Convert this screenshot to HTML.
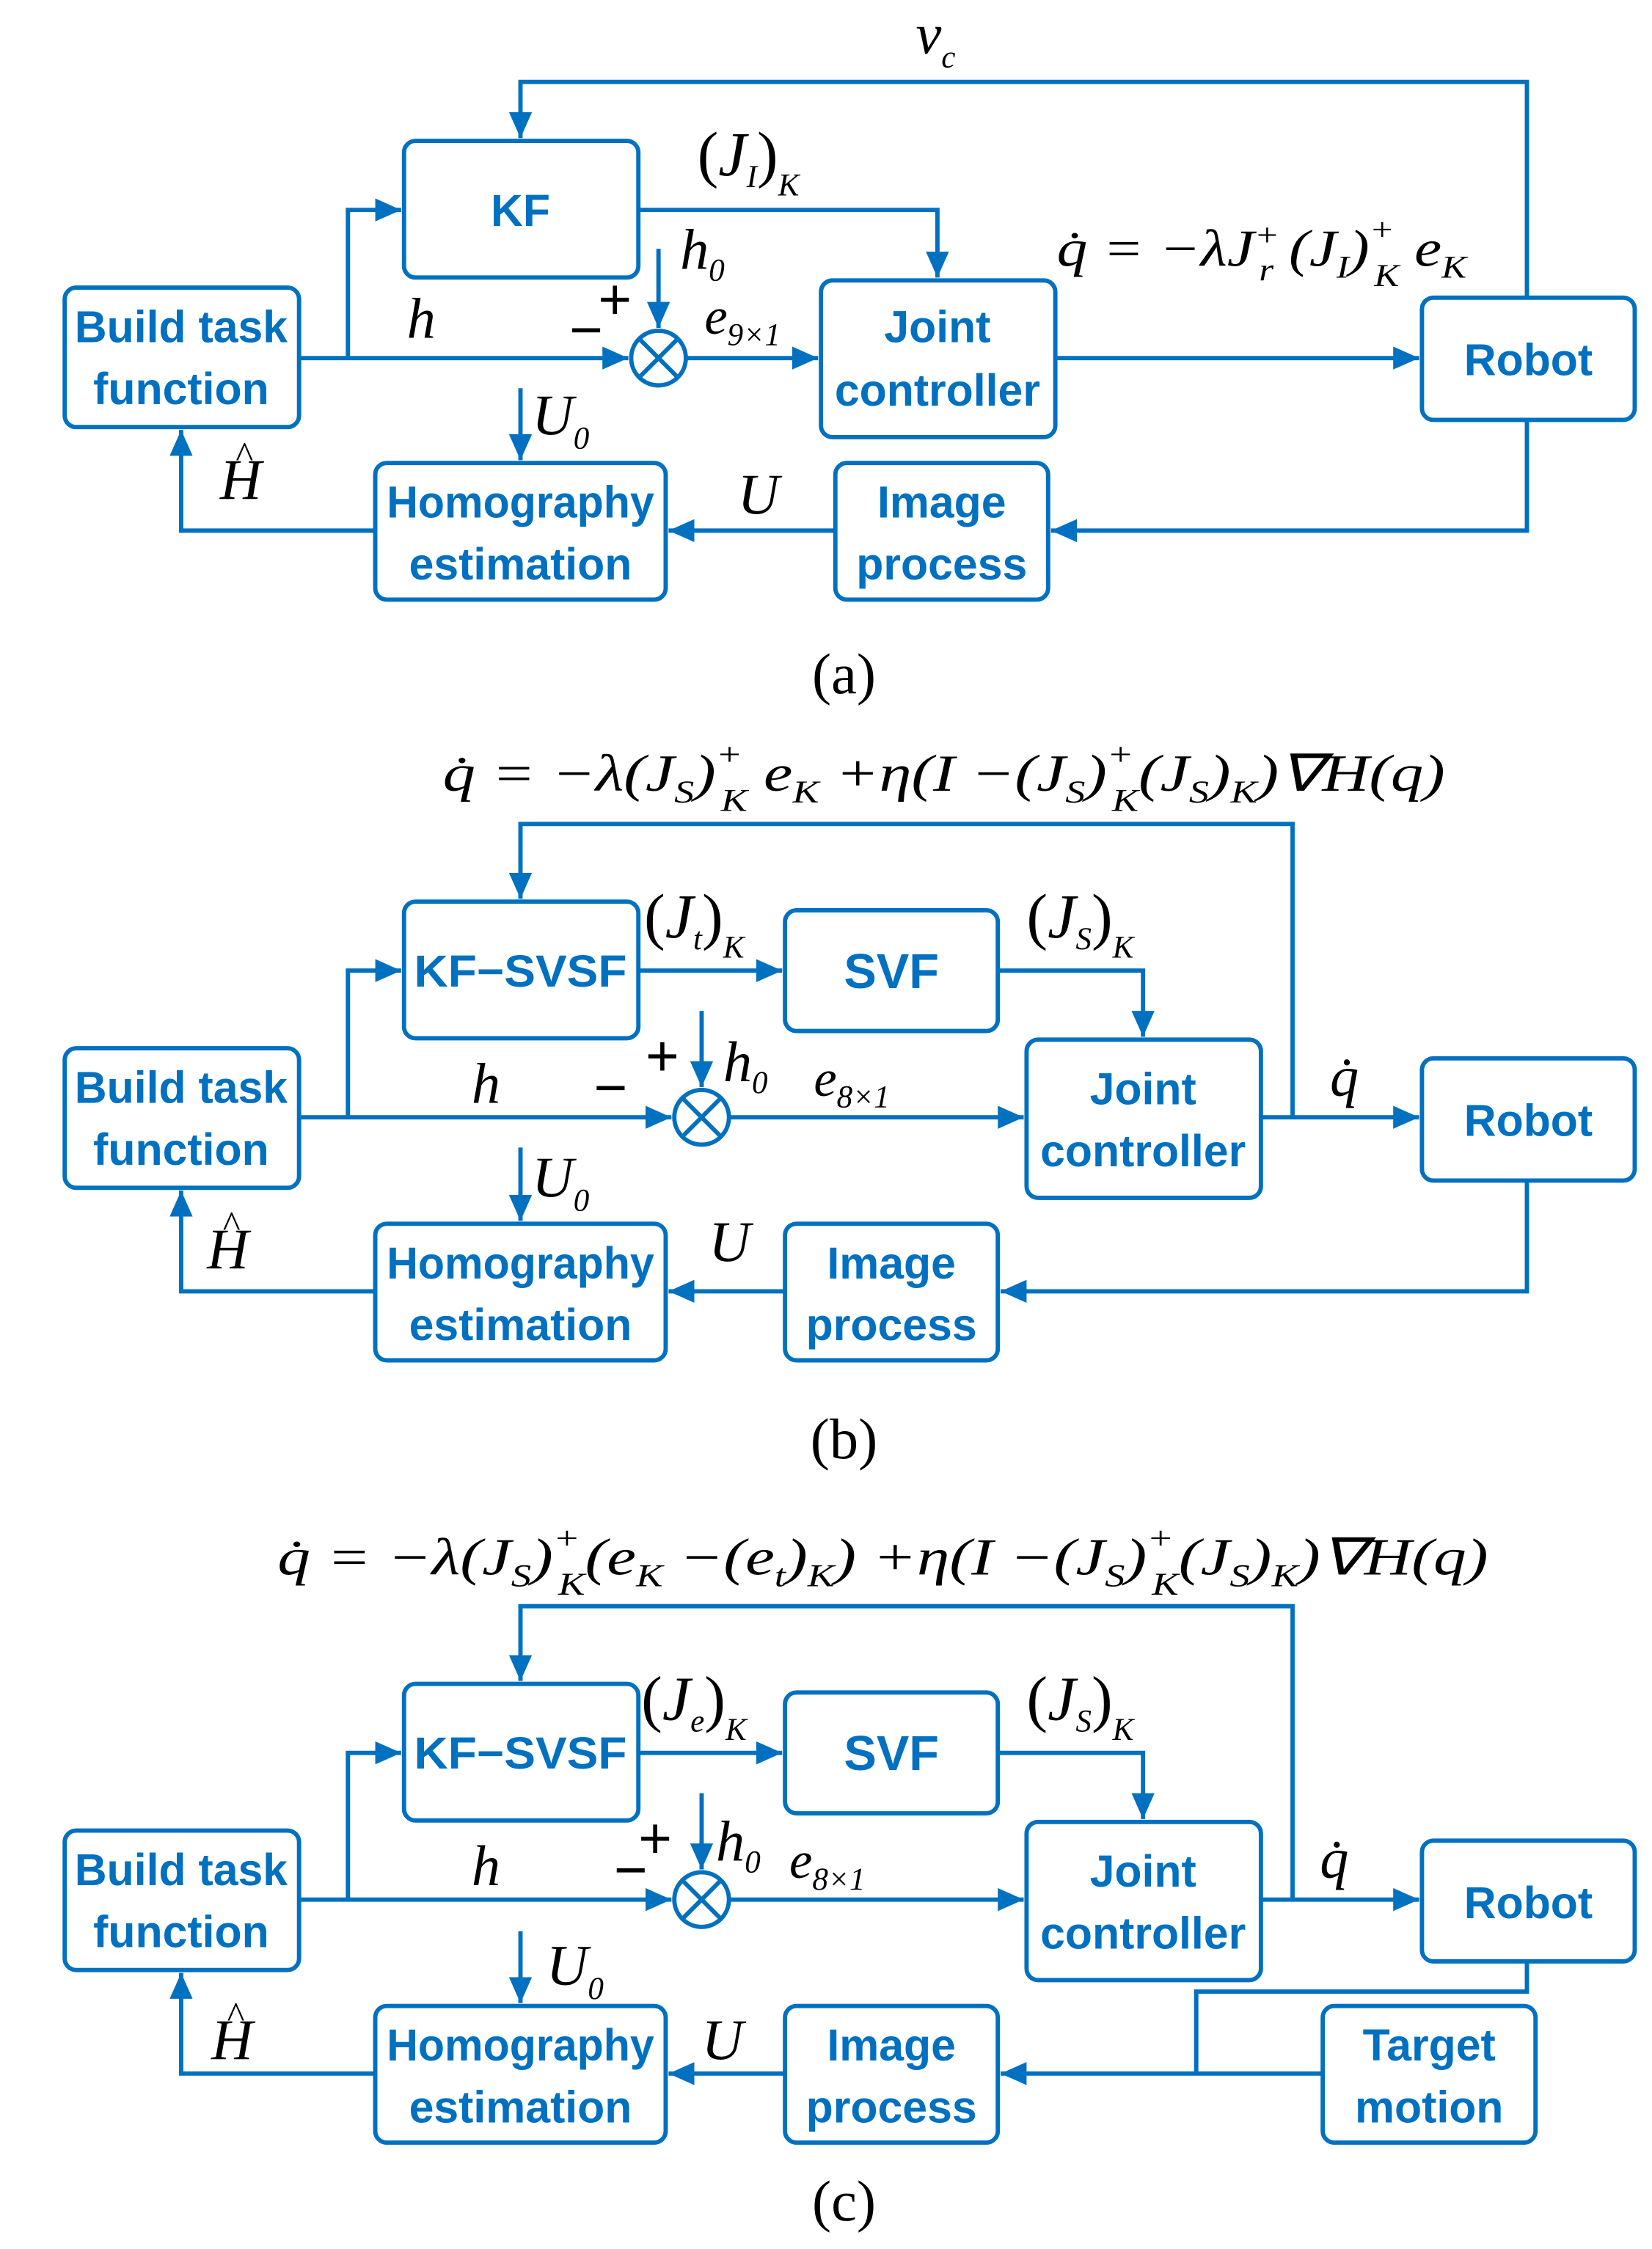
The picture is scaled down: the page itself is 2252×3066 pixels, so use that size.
<!DOCTYPE html>
<html><head><meta charset="utf-8"><style>
html,body{margin:0;padding:0;background:#fff}
svg{display:block}
.bx{fill:#fff;stroke:#0070C0;stroke-width:3}
.ln{fill:none;stroke:#0070C0;stroke-width:3}
.bt{font-family:"Liberation Sans",sans-serif;font-weight:bold;font-size:31px;fill:#0070C0;text-anchor:middle}
.m{font-family:"Liberation Serif",serif;font-style:italic;font-size:36px;fill:#000}
.r{font-family:"Liberation Serif",serif;font-size:36px;fill:#000}
.s{font-size:22px}
.pm{font-family:"Liberation Sans",sans-serif;font-size:40px;fill:#000}
.jl{font-size:44px}
</style></head><body>
<svg width="2252" height="3066" viewBox="0 0 1149 1564" preserveAspectRatio="none" xmlns="http://www.w3.org/2000/svg">
<defs>
<marker id="a" markerUnits="userSpaceOnUse" markerWidth="20" markerHeight="16" refX="18" refY="8" orient="auto">
<path d="M0,0 L18,8 L0,16 z" fill="#0070C0"/></marker>
</defs>

<!-- ========== (a) ========== -->
<rect class="bx" x="45" y="200" width="163" height="97" rx="8"/>
<rect class="bx" x="281" y="98" width="163" height="95" rx="8"/>
<rect class="bx" x="571" y="195" width="163" height="109" rx="8"/>
<rect class="bx" x="989" y="207" width="148" height="85" rx="8"/>
<rect class="bx" x="261" y="322" width="202" height="95" rx="8"/>
<rect class="bx" x="581" y="322" width="148" height="95" rx="8"/>
<circle class="ln" cx="458" cy="249" r="19"/>
<path class="ln" d="M445,236 L471,262 M471,236 L445,262"/>
<path class="ln" d="M208,249 H437" marker-end="url(#a)"/>
<path class="ln" d="M477,249 H569" marker-end="url(#a)"/>
<path class="ln" d="M734,249 H987" marker-end="url(#a)"/>
<path class="ln" d="M242,249 V146 H279" marker-end="url(#a)"/>
<path class="ln" d="M444,146 H652 V193" marker-end="url(#a)"/>
<path class="ln" d="M1062,207 V57 H362 V96" marker-end="url(#a)"/>
<path class="ln" d="M458,173 V228" marker-end="url(#a)"/>
<path class="ln" d="M1062,292 V369 H731" marker-end="url(#a)"/>
<path class="ln" d="M581,369 H465" marker-end="url(#a)"/>
<path class="ln" d="M261,369 H126 V299" marker-end="url(#a)"/>
<path class="ln" d="M362,270 V320" marker-end="url(#a)"/>
<text class="bt" x="126" y="238">Build task</text>
<text class="bt" x="126" y="281">function</text>
<text class="bt" x="362" y="157">KF</text>
<text class="bt" x="652" y="238">Joint</text>
<text class="bt" x="652" y="282">controller</text>
<text class="bt" x="1063" y="261">Robot</text>
<text class="bt" x="362" y="360" textLength="186" lengthAdjust="spacingAndGlyphs">Homography</text>
<text class="bt" x="362" y="403">estimation</text>
<text class="bt" x="655" y="360">Image</text>
<text class="bt" x="655" y="403">process</text>
<text class="m" x="637" y="37" style="font-size:40px">v<tspan class="s" dy="10">c</tspan></text>
<text class="r jl" x="485" y="122">(<tspan class="m jl">J</tspan><tspan class="m s" dy="8">I</tspan><tspan dy="-8">)</tspan><tspan class="m s" dy="14">K</tspan></text>
<text class="m" x="473" y="187" style="font-size:40px">h<tspan class="r s" dy="8">0</tspan></text>
<text class="m" x="283" y="235" style="font-size:40px">h</text>
<text class="pm" x="416" y="222">+</text>
<text class="pm" x="396" y="243">−</text>
<text class="m" x="490" y="232">e<tspan class="r s" dy="8">9×1</tspan></text>
<text class="m" x="735" y="185" textLength="285" lengthAdjust="spacingAndGlyphs">q̇ <tspan class="r">= −</tspan>λJ<tspan class="r s" dy="-14">+</tspan><tspan class="s" dx="-12" dy="24">r</tspan><tspan class="r" dy="-10"> (</tspan>J<tspan class="s" dy="8">I</tspan><tspan class="r" dy="-8">)</tspan><tspan class="r s" dy="-18">+</tspan><tspan class="s" dx="-12" dy="32">K</tspan><tspan dy="-14"> e</tspan><tspan class="s" dy="8">K</tspan></text>
<text class="m" x="370" y="302" style="font-size:40px">U<tspan class="r s" dy="10">0</tspan></text>
<text class="m" x="153" y="347" style="font-size:40px">H</text><text class="r" x="164" y="325" style="font-size:26px">^</text>
<text class="m" x="513" y="357" style="font-size:40px">U</text>
<text class="r" x="587" y="482" text-anchor="middle" style="font-size:40px">(a)</text>

<!-- ========== (b) ========== -->
<text class="m" x="308" y="550" textLength="697" lengthAdjust="spacingAndGlyphs">q̇ <tspan class="r">= −</tspan>λ<tspan class="r">(</tspan>J<tspan class="s" dy="8">S</tspan><tspan class="r" dy="-8">)</tspan><tspan class="r s" dy="-18">+</tspan><tspan class="s" dx="-12" dy="32">K</tspan><tspan dy="-14"> e</tspan><tspan class="s" dy="8">K</tspan><tspan class="r" dy="-8"> +</tspan>η<tspan class="r">(</tspan>I<tspan class="r"> −(</tspan>J<tspan class="s" dy="8">S</tspan><tspan class="r" dy="-8">)</tspan><tspan class="r s" dy="-18">+</tspan><tspan class="s" dx="-12" dy="32">K</tspan><tspan class="r" dy="-14">(</tspan>J<tspan class="s" dy="8">S</tspan><tspan class="r" dy="-8">)</tspan><tspan class="s" dy="8">K</tspan><tspan class="r" dy="-8">)∇H(</tspan>q<tspan class="r">)</tspan></text>
<rect class="bx" x="45" y="729" width="163" height="97" rx="8"/>
<rect class="bx" x="281" y="627" width="163" height="95" rx="8"/>
<rect class="bx" x="546" y="633" width="148" height="84" rx="8"/>
<rect class="bx" x="714" y="723" width="163" height="110" rx="8"/>
<rect class="bx" x="989" y="736" width="148" height="85" rx="8"/>
<rect class="bx" x="261" y="851" width="202" height="95" rx="8"/>
<rect class="bx" x="546" y="851" width="148" height="95" rx="8"/>
<circle class="ln" cx="488" cy="777" r="19"/>
<path class="ln" d="M475,764 L501,790 M501,764 L475,790"/>
<path class="ln" d="M208,777 H467" marker-end="url(#a)"/>
<path class="ln" d="M507,777 H712" marker-end="url(#a)"/>
<path class="ln" d="M877,777 H987" marker-end="url(#a)"/>
<path class="ln" d="M242,777 V675 H279" marker-end="url(#a)"/>
<path class="ln" d="M444,675 H544" marker-end="url(#a)"/>
<path class="ln" d="M694,675 H795 V721" marker-end="url(#a)"/>
<path class="ln" d="M899,777 V573 H362 V625" marker-end="url(#a)"/>
<path class="ln" d="M488,703 V756" marker-end="url(#a)"/>
<path class="ln" d="M1062,821 V898 H696" marker-end="url(#a)"/>
<path class="ln" d="M546,898 H465" marker-end="url(#a)"/>
<path class="ln" d="M261,898 H126 V828" marker-end="url(#a)"/>
<path class="ln" d="M362,798 V849" marker-end="url(#a)"/>
<text class="bt" x="126" y="767">Build task</text>
<text class="bt" x="126" y="810">function</text>
<text class="bt" x="362" y="686" textLength="148" lengthAdjust="spacingAndGlyphs">KF−SVSF</text>
<text class="bt" x="620" y="687" style="font-size:34px">SVF</text>
<text class="bt" x="795" y="768">Joint</text>
<text class="bt" x="795" y="811">controller</text>
<text class="bt" x="1063" y="790">Robot</text>
<text class="bt" x="362" y="889" textLength="186" lengthAdjust="spacingAndGlyphs">Homography</text>
<text class="bt" x="362" y="932">estimation</text>
<text class="bt" x="620" y="889">Image</text>
<text class="bt" x="620" y="932">process</text>
<text class="r jl" x="448" y="652">(<tspan class="m jl">J</tspan><tspan class="m s" dy="8">t</tspan><tspan dy="-8">)</tspan><tspan class="m s" dy="14">K</tspan></text>
<text class="r jl" x="714" y="652">(<tspan class="m jl">J</tspan><tspan class="m s" dy="8">S</tspan><tspan dy="-8">)</tspan><tspan class="m s" dy="14">K</tspan></text>
<text class="m" x="328" y="767" style="font-size:40px">h</text>
<text class="pm" x="449" y="748">+</text>
<text class="pm" x="413" y="770">−</text>
<text class="m" x="503" y="752" style="font-size:40px">h<tspan class="r s" dy="8">0</tspan></text>
<text class="m" x="566" y="762">e<tspan class="r s" dy="8">8×1</tspan></text>
<text class="m" x="925" y="762" style="font-size:40px">q̇</text>
<text class="m" x="370" y="832" style="font-size:40px">U<tspan class="r s" dy="10">0</tspan></text>
<text class="m" x="144" y="882" style="font-size:40px">H</text><text class="r" x="155" y="860" style="font-size:26px">^</text>
<text class="m" x="493" y="877" style="font-size:40px">U</text>
<text class="r" x="587" y="1014" text-anchor="middle" style="font-size:40px">(b)</text>

<!-- ========== (c) ========== -->
<text class="m" x="193" y="1095" textLength="842" lengthAdjust="spacingAndGlyphs">q̇ <tspan class="r">= −</tspan>λ<tspan class="r">(</tspan>J<tspan class="s" dy="8">S</tspan><tspan class="r" dy="-8">)</tspan><tspan class="r s" dy="-18">+</tspan><tspan class="s" dx="-12" dy="32">K</tspan><tspan class="r" dy="-14">(</tspan>e<tspan class="s" dy="8">K</tspan><tspan class="r" dy="-8"> −(</tspan>e<tspan class="s" dy="8">t</tspan><tspan class="r" dy="-8">)</tspan><tspan class="s" dy="8">K</tspan><tspan class="r" dy="-8">) +</tspan>η<tspan class="r">(</tspan>I<tspan class="r"> −(</tspan>J<tspan class="s" dy="8">S</tspan><tspan class="r" dy="-8">)</tspan><tspan class="r s" dy="-18">+</tspan><tspan class="s" dx="-12" dy="32">K</tspan><tspan class="r" dy="-14">(</tspan>J<tspan class="s" dy="8">S</tspan><tspan class="r" dy="-8">)</tspan><tspan class="s" dy="8">K</tspan><tspan class="r" dy="-8">)∇H(</tspan>q<tspan class="r">)</tspan></text>
<rect class="bx" x="45" y="1273" width="163" height="97" rx="8"/>
<rect class="bx" x="281" y="1171" width="163" height="95" rx="8"/>
<rect class="bx" x="546" y="1177" width="148" height="84" rx="8"/>
<rect class="bx" x="714" y="1267" width="163" height="110" rx="8"/>
<rect class="bx" x="989" y="1280" width="148" height="84" rx="8"/>
<rect class="bx" x="261" y="1395" width="202" height="95" rx="8"/>
<rect class="bx" x="546" y="1395" width="148" height="95" rx="8"/>
<rect class="bx" x="920" y="1395" width="148" height="95" rx="8"/>
<circle class="ln" cx="488" cy="1321" r="19"/>
<path class="ln" d="M475,1308 L501,1334 M501,1308 L475,1334"/>
<path class="ln" d="M208,1321 H467" marker-end="url(#a)"/>
<path class="ln" d="M507,1321 H712" marker-end="url(#a)"/>
<path class="ln" d="M877,1321 H987" marker-end="url(#a)"/>
<path class="ln" d="M242,1321 V1219 H279" marker-end="url(#a)"/>
<path class="ln" d="M444,1219 H544" marker-end="url(#a)"/>
<path class="ln" d="M694,1219 H795 V1265" marker-end="url(#a)"/>
<path class="ln" d="M899,1321 V1117 H362 V1169" marker-end="url(#a)"/>
<path class="ln" d="M488,1247 V1300" marker-end="url(#a)"/>
<path class="ln" d="M1062,1364 V1385 H832 V1442"/>
<path class="ln" d="M920,1442 H696" marker-end="url(#a)"/>
<path class="ln" d="M546,1442 H465" marker-end="url(#a)"/>
<path class="ln" d="M261,1442 H126 V1372" marker-end="url(#a)"/>
<path class="ln" d="M362,1343 V1393" marker-end="url(#a)"/>
<text class="bt" x="126" y="1311">Build task</text>
<text class="bt" x="126" y="1354">function</text>
<text class="bt" x="362" y="1230" textLength="148" lengthAdjust="spacingAndGlyphs">KF−SVSF</text>
<text class="bt" x="620" y="1231" style="font-size:34px">SVF</text>
<text class="bt" x="795" y="1312">Joint</text>
<text class="bt" x="795" y="1355">controller</text>
<text class="bt" x="1063" y="1334">Robot</text>
<text class="bt" x="362" y="1433" textLength="186" lengthAdjust="spacingAndGlyphs">Homography</text>
<text class="bt" x="362" y="1476">estimation</text>
<text class="bt" x="620" y="1433">Image</text>
<text class="bt" x="620" y="1476">process</text>
<text class="bt" x="994" y="1433">Target</text>
<text class="bt" x="994" y="1476">motion</text>
<text class="r jl" x="446" y="1196">(<tspan class="m jl">J</tspan><tspan class="m s" dy="8">e</tspan><tspan dy="-8">)</tspan><tspan class="m s" dy="14">K</tspan></text>
<text class="r jl" x="714" y="1196">(<tspan class="m jl">J</tspan><tspan class="m s" dy="8">S</tspan><tspan dy="-8">)</tspan><tspan class="m s" dy="14">K</tspan></text>
<text class="m" x="328" y="1311" style="font-size:40px">h</text>
<text class="pm" x="444" y="1292">+</text>
<text class="pm" x="427" y="1314">−</text>
<text class="m" x="498" y="1294" style="font-size:40px">h<tspan class="r s" dy="8">0</tspan></text>
<text class="m" x="549" y="1306">e<tspan class="r s" dy="8">8×1</tspan></text>
<text class="m" x="918" y="1306" style="font-size:40px">q̇</text>
<text class="m" x="380" y="1380" style="font-size:40px">U<tspan class="r s" dy="10">0</tspan></text>
<text class="m" x="147" y="1432" style="font-size:40px">H</text><text class="r" x="158" y="1410" style="font-size:26px">^</text>
<text class="m" x="488" y="1432" style="font-size:40px">U</text>
<text class="r" x="587" y="1544" text-anchor="middle" style="font-size:40px">(c)</text>
</svg>
</body></html>
